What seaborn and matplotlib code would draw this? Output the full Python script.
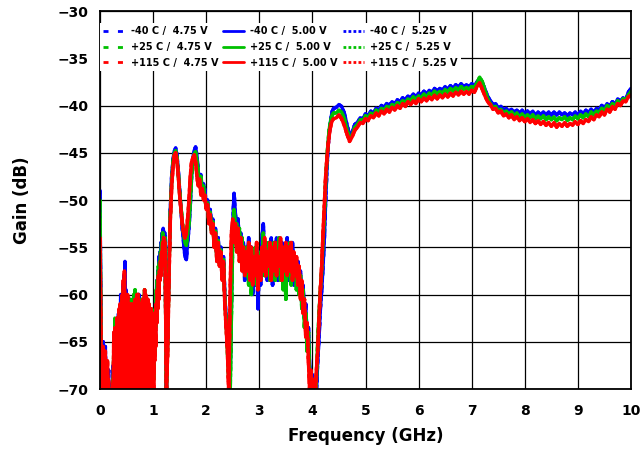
import numpy as np
import matplotlib
matplotlib.use('Agg')
import matplotlib.pyplot as plt
from matplotlib.ticker import MultipleLocator
import seaborn as sns

# sweep segments (GHz): 0-1.2 dense, 1.225-4.4, 4.45-10
lo_span = (0.0, 1.2)
mid_span = (1.225, 4.4)
hi_span = (4.45, 10.0)

temps = ['-40 C', '+25 C', '+115 C']
volts = ['4.75 V', '5.00 V', '5.25 V']

# -40 C
blue_lo = [-49.0, -58.0, -64.0, -69.5, -66.0, -70.5, -65.0, -70.5, -66.5, -70.5,
           -65.5, -70.5, -67.0, -70.5, -68.5, -70.5, -68.0, -71.0, -69.5, -71.0,
           -71.0, -71.0, -71.0, -70.5, -71.0, -67.5, -70.5, -65.0, -70.5, -64.5,
           -70.5, -63.0, -70.0, -65.5, -70.5, -62.0, -69.5, -63.5, -70.5, -60.0,
           -70.0, -61.5, -70.5, -59.0, -70.0, -58.0, -70.5, -56.5, -70.0, -59.5,
           -70.5, -61.0, -69.5, -62.0, -70.5, -60.5, -70.0, -63.0, -70.5, -61.5,
           -70.0, -62.5, -70.5, -61.0, -69.5, -62.0, -70.5, -61.5, -70.0, -60.5,
           -70.5, -61.0, -70.0, -60.0, -70.5, -62.0, -69.5, -61.5, -70.5, -62.5,
           -70.0, -61.0, -70.5, -60.5, -70.0, -60.0, -70.5, -61.5, -70.0, -62.5,
           -70.5, -61.5, -70.0, -62.0, -70.5, -63.0, -70.0, -62.0, -70.5, -64.0,
           -70.5, -63.0, -68.0, -62.5, -66.0, -60.0, -62.5, -58.5, -60.5, -57.5,
           -59.0, -56.0, -57.5, -55.5, -57.0, -54.5, -56.0, -53.5, -55.0, -53.0,
           -53.5]
blue_mid = [-53.5, -70.0, -64.0, -56.5, -51.0, -47.5, -45.8, -44.8, -44.5, -45.3,
            -47.0, -49.0, -51.0, -53.0, -54.5, -56.0, -56.3, -54.5, -53.0, -50.5,
            -47.5, -45.5, -44.8, -44.4, -45.3, -47.0, -48.0, -47.3, -49.0, -48.3,
            -49.0, -50.5, -50.0, -52.0, -51.0, -53.0, -52.0, -54.5, -53.0, -56.0,
            -54.0, -56.5, -55.0, -58.0, -56.0, -60.0, -62.5, -65.0, -68.0, -69.0,
            -60.5, -52.5, -49.3, -51.5, -53.5, -52.0, -55.5, -53.5, -57.0, -54.5,
            -58.5, -55.0, -58.0, -54.0, -59.0, -55.0, -60.0, -56.0, -59.0, -55.0,
            -61.5, -56.0, -59.0, -54.0, -52.5, -57.0, -54.5, -58.5, -55.0, -57.5,
            -54.0, -59.0, -55.5, -58.0, -54.0, -58.5, -55.0, -57.5, -54.5, -59.0,
            -55.5, -58.0, -54.0, -58.5, -55.0, -58.0, -54.5, -59.0, -56.0, -58.5,
            -56.5, -59.5, -57.5, -61.0, -59.0, -62.5, -61.0, -65.0, -63.5, -68.0,
            -70.5, -68.5, -71.0, -69.5, -70.5, -67.0, -64.5, -61.5, -59.5, -57.0,
            -54.0, -50.0, -46.5, -44.0, -42.5, -41.3, -40.6, -40.3]
blue_hi = [-40.2, -39.9, -40.1, -40.8, -42.0, -43.2, -42.8, -42.0, -41.8, -41.3,
           -41.4, -40.9, -41.1, -40.6, -40.8, -40.3, -40.5, -40.0, -40.2, -39.8,
           -40.0, -39.6, -39.8, -39.4, -39.6, -39.2, -39.4, -39.0, -39.2, -38.8,
           -39.1, -38.7, -38.9, -38.5, -38.8, -38.4, -38.6, -38.2, -38.5, -38.2,
           -38.4, -38.0, -38.3, -37.9, -38.2, -37.8, -38.1, -37.7, -38.0, -37.8,
           -38.0, -37.7, -37.9, -37.5, -37.2, -37.6, -38.3, -39.0, -39.5, -39.9,
           -39.8, -40.3, -40.1, -40.5, -40.3, -40.6, -40.4, -40.7, -40.5, -40.8,
           -40.5, -40.9, -40.6, -40.9, -40.6, -41.0, -40.7, -41.0, -40.7, -41.0,
           -40.7, -41.0, -40.7, -41.0, -40.7, -41.0, -40.8, -41.1, -40.8, -41.0,
           -40.7, -41.0, -40.6, -40.9, -40.5, -40.8, -40.4, -40.7, -40.3, -40.5,
           -40.0, -40.3, -39.8, -40.1, -39.6, -39.9, -39.3, -39.6, -39.2, -39.4,
           -38.6, -38.2]

# +25 C
green_lo = [-50.0, -59.0, -65.0, -70.5, -67.0, -70.5, -66.0, -70.5, -68.0, -70.5,
            -67.0, -71.0, -68.5, -71.0, -69.0, -71.0, -70.5, -71.0, -71.0, -71.0,
            -71.0, -71.0, -70.5, -71.0, -69.0, -70.5, -65.5, -70.5, -62.5, -70.0,
            -63.0, -70.5, -64.0, -70.0, -62.5, -70.5, -63.0, -69.0, -61.5, -70.5,
            -62.0, -70.0, -60.5, -70.5, -59.5, -69.5, -60.0, -70.5, -61.0, -70.0,
            -61.5, -70.5, -62.5, -69.5, -61.0, -70.5, -62.0, -70.0, -60.5, -70.5,
            -62.0, -70.0, -61.5, -70.5, -60.0, -69.5, -59.5, -70.5, -61.0, -70.0,
            -60.5, -70.5, -61.5, -70.0, -61.0, -70.5, -62.0, -69.5, -60.5, -70.5,
            -61.0, -70.0, -60.5, -70.5, -59.5, -70.0, -61.0, -70.5, -61.5, -70.0,
            -62.0, -70.5, -61.0, -70.0, -62.5, -70.5, -61.5, -70.0, -63.0, -70.5,
            -62.5, -69.0, -63.0, -66.5, -61.5, -63.5, -59.5, -61.5, -58.5, -60.0,
            -57.0, -58.5, -56.5, -57.5, -55.5, -56.5, -54.5, -55.5, -53.5, -55.0,
            -54.0]
green_mid = [-54.0, -70.5, -65.0, -57.0, -51.5, -48.0, -46.0, -45.0, -44.8, -45.6,
             -47.3, -49.2, -50.8, -52.3, -53.5, -54.5, -54.8, -53.5, -52.5, -50.0,
             -47.3, -45.8, -45.2, -44.9, -45.8, -47.2, -48.3, -47.5, -49.2, -48.5,
             -49.8, -50.8, -50.3, -52.3, -51.3, -53.3, -52.3, -54.8, -53.3, -56.3,
             -54.3, -56.8, -55.3, -58.3, -56.3, -60.5, -63.0, -66.0, -69.0, -71.0,
             -62.0, -54.0, -51.0, -53.0, -52.5, -55.0, -53.0, -56.0, -54.0, -57.0,
             -55.0, -58.0, -55.0, -59.0, -55.5, -60.0, -56.0, -58.5, -55.0, -59.0,
             -56.5, -58.5, -55.5, -57.5, -53.5, -58.0, -55.0, -57.5, -54.5, -58.5,
             -55.0, -58.0, -54.5, -58.5, -55.5, -57.5, -54.0, -58.5, -55.0, -59.5,
             -56.0, -60.5, -55.5, -58.0, -54.5, -59.0, -55.5, -58.0, -56.0, -59.5,
             -57.0, -60.0, -58.0, -61.5, -59.5, -63.5, -62.0, -66.0, -64.0, -69.0,
             -70.0, -71.0, -69.5, -71.0, -69.0, -65.0, -62.0, -59.5, -57.5, -54.5,
             -51.5, -48.0, -45.5, -43.5, -42.2, -41.5, -41.0, -40.8]
green_hi = [-40.8, -40.5, -40.7, -41.4, -42.5, -43.6, -43.1, -42.3, -42.0, -41.5,
            -41.6, -41.1, -41.3, -40.8, -41.0, -40.5, -40.8, -40.3, -40.5, -40.1,
            -40.3, -39.9, -40.1, -39.7, -39.9, -39.5, -39.7, -39.3, -39.5, -39.1,
            -39.4, -39.0, -39.2, -38.8, -39.1, -38.7, -38.9, -38.5, -38.8, -38.5,
            -38.7, -38.3, -38.6, -38.2, -38.5, -38.1, -38.4, -38.0, -38.3, -38.1,
            -38.3, -38.0, -38.1, -37.6, -37.0, -37.5, -38.4, -39.3, -39.8, -40.2,
            -40.1, -40.6, -40.4, -40.8, -40.6, -40.9, -40.7, -41.1, -40.8, -41.2,
            -40.9, -41.3, -41.0, -41.3, -41.0, -41.4, -41.1, -41.4, -41.1, -41.5,
            -41.2, -41.5, -41.2, -41.6, -41.3, -41.5, -41.2, -41.6, -41.3, -41.5,
            -41.1, -41.4, -41.0, -41.3, -40.9, -41.2, -40.7, -41.0, -40.6, -40.8,
            -40.3, -40.6, -40.0, -40.3, -39.8, -40.1, -39.5, -39.8, -39.3, -39.4,
            -38.9, -38.5]

# +115 C
red_lo = [-54.0, -60.5, -66.0, -70.5, -66.5, -70.5, -65.5, -70.5, -67.5, -70.5,
          -66.0, -70.5, -68.0, -70.5, -67.0, -71.0, -69.0, -71.0, -71.0, -71.0,
          -71.0, -71.0, -70.5, -71.0, -69.5, -70.5, -64.0, -70.5, -63.5, -70.0,
          -65.0, -70.5, -62.5, -69.5, -64.0, -70.5, -61.5, -70.0, -61.0, -69.0,
          -63.0, -70.5, -60.0, -68.5, -58.5, -70.0, -57.5, -69.5, -60.5, -70.5,
          -62.0, -68.0, -60.0, -70.5, -63.5, -69.5, -61.0, -70.5, -62.5, -68.5,
          -61.0, -70.0, -61.5, -69.0, -63.5, -70.5, -60.5, -68.0, -62.0, -70.0,
          -60.0, -69.5, -60.0, -70.5, -62.5, -68.0, -61.0, -70.5, -63.0, -69.0,
          -60.5, -70.0, -61.5, -68.5, -59.5, -70.5, -60.0, -69.0, -62.0, -70.0,
          -60.5, -68.0, -61.0, -70.5, -62.5, -69.5, -61.5, -70.5, -63.0, -68.5,
          -62.0, -70.0, -64.0, -67.0, -63.5, -65.5, -61.0, -63.0, -59.5, -61.5,
          -58.0, -60.5, -57.5, -58.5, -56.5, -58.0, -55.5, -57.0, -54.5, -56.0,
          -54.0]
red_mid = [-54.5, -70.5, -66.0, -58.0, -52.0, -48.5, -46.5, -45.3, -45.0, -45.8,
           -47.5, -49.5, -51.0, -52.5, -53.5, -54.0, -53.5, -52.0, -50.0, -47.5,
           -46.0, -45.5, -45.2, -46.0, -47.5, -48.5, -47.8, -49.5, -48.8, -50.0,
           -49.5, -51.0, -50.5, -52.5, -51.5, -53.5, -52.5, -55.0, -53.5, -56.5,
           -54.5, -57.0, -55.5, -58.5, -56.5, -61.0, -63.5, -66.0, -70.5, -60.0,
           -53.5, -52.0, -54.5, -52.5, -55.5, -53.0, -56.5, -54.0, -57.5, -55.0,
           -58.0, -55.5, -57.5, -54.5, -58.5, -55.0, -59.0, -56.0, -58.0, -54.5,
           -59.5, -56.0, -58.5, -55.0, -57.5, -54.0, -58.0, -55.5, -57.0, -54.5,
           -58.5, -55.0, -57.5, -54.5, -58.0, -55.5, -57.0, -54.0, -58.5, -55.0,
           -57.5, -54.5, -58.0, -55.0, -57.5, -54.5, -58.5, -55.5, -58.0, -56.0,
           -59.0, -57.0, -60.5, -58.5, -62.0, -60.5, -64.5, -63.0, -67.0, -70.5,
           -68.0, -71.0, -69.0, -71.0, -68.0, -66.0, -62.5, -59.5, -57.0, -53.5,
           -50.5, -47.5, -45.5, -44.0, -42.8, -42.0, -41.6, -41.4]
red_hi = [-41.3, -41.0, -41.4, -42.1, -43.0, -43.8, -43.3, -42.6, -42.3, -41.8,
          -41.9, -41.4, -41.6, -41.1, -41.3, -40.8, -41.1, -40.6, -40.9, -40.4,
          -40.7, -40.2, -40.5, -40.0, -40.3, -39.8, -40.1, -39.6, -39.9, -39.5,
          -39.8, -39.3, -39.6, -39.2, -39.5, -39.1, -39.4, -38.9, -39.3, -38.9,
          -39.2, -38.8, -39.1, -38.7, -39.0, -38.6, -38.9, -38.5, -38.8, -38.5,
          -38.8, -38.4, -38.6, -38.0, -37.6, -38.3, -39.0, -39.6, -39.9, -40.4,
          -40.3, -40.8, -40.6, -41.1, -40.9, -41.3, -41.0, -41.5, -41.2, -41.6,
          -41.3, -41.7, -41.4, -41.8, -41.5, -41.9, -41.6, -42.0, -41.7, -42.1,
          -41.8, -42.2, -41.8, -42.3, -41.9, -42.2, -41.8, -42.2, -41.9, -42.1,
          -41.7, -42.0, -41.6, -41.9, -41.5, -41.7, -41.2, -41.5, -41.0, -41.2,
          -40.7, -41.0, -40.4, -40.7, -40.1, -40.4, -39.8, -40.0, -39.5, -39.6,
          -39.1, -38.9]

gain_data = {
    '-40 C': (blue_lo, blue_mid, blue_hi),
    '+25 C': (green_lo, green_mid, green_hi),
    '+115 C': (red_lo, red_mid, red_hi),
}
temp_colors = {'-40 C': '#0000FF', '+25 C': '#00C000', '+115 C': '#FF0000'}
volt_styles = {'4.75 V': (0, (1.8, 3.4)), '5.00 V': '-', '5.25 V': (0, (1.0, 0.8))}


def sweep(parts):
    f = []
    g = []
    for span, vals in zip((lo_span, mid_span, hi_span), parts):
        f.append(np.linspace(span[0], span[1], len(vals)))
        g.append(np.asarray(vals))
    return np.concatenate(f), np.concatenate(g)


sns.set_style('white')
plt.rcParams['font.family'] = ['DejaVu Sans']
plt.rcParams['font.weight'] = 'bold'
plt.rcParams['text.color'] = 'black'
plt.rcParams['axes.labelcolor'] = 'black'
plt.rcParams['xtick.color'] = 'black'
plt.rcParams['ytick.color'] = 'black'

fig = plt.figure(figsize=(6.42, 4.5), dpi=100)
ax = fig.add_axes([100/642, 1 - 389/450, 531/642, 378/450])

handles = {}
for t in temps:
    freq, gain = sweep(gain_data[t])
    for v in volts:
        sns.lineplot(x=freq, y=gain, ax=ax, color=temp_colors[t], linestyle=volt_styles[v],
                     lw=2.5, sort=False, estimator=None)
        handles[(t, v)] = ax.lines[-1]

ax.set_xlim(0, 10)
ax.set_ylim(-70, -30)
ax.set_xticks(range(0, 11))
ax.set_yticks(range(-70, -29, 5))
ax.xaxis.set_minor_locator(MultipleLocator(0.2))
ax.yaxis.set_minor_locator(MultipleLocator(1))
ax.tick_params(which='major', direction='inout', length=8, width=1.3, colors='black', labelsize=10)
ax.tick_params(which='minor', direction='in', length=4, width=1.0, colors='black')
ax.tick_params(axis='x', which='major', pad=7)
ax.tick_params(axis='y', which='major', pad=4)
ax.grid(True, which='major', color='black', lw=0.9)
ax.set_axisbelow(True)
for s in ax.spines.values():
    s.set_color('black')
    s.set_linewidth(1.3)

ax.set_xlabel('Frequency (GHz)', fontsize=12, fontweight='bold', color='black')
ax.set_ylabel('Gain (dB)', fontsize=12, fontweight='bold', color='black')
ax.xaxis.set_label_coords(0.5, -0.1)
ax.yaxis.set_label_coords(-0.13, 0.5)

leg_handles = []
leg_labels = []
for v in volts:
    for t in temps:
        h = plt.Line2D([], [], color=temp_colors[t], linestyle=volt_styles[v], lw=2)
        leg_handles.append(h)
        leg_labels.append('{} /  {}'.format(t, v))
leg = ax.legend(leg_handles, leg_labels, ncol=3, loc='upper left', bbox_to_anchor=(0.0, 0.969),
                prop={'size': 7, 'weight': 'bold'}, frameon=True, fancybox=False,
                edgecolor='none', facecolor='white', framealpha=1, handlelength=2.2,
                handletextpad=0.6, columnspacing=0.5, labelspacing=0.6, borderpad=0.35,
                borderaxespad=0)
for txt in leg.get_texts():
    txt.set_color('black')

plt.savefig('out.png', dpi=100)
